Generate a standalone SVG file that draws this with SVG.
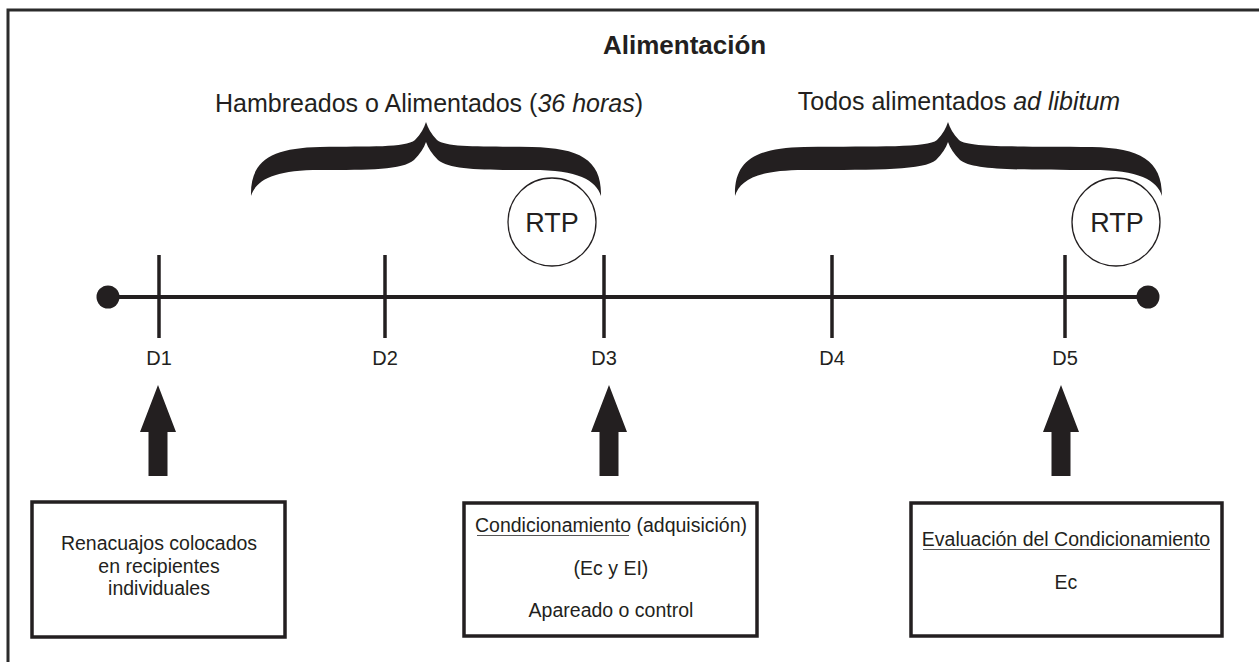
<svg xmlns="http://www.w3.org/2000/svg" width="1259" height="662" viewBox="0 0 1259 662">
<style>
text{font-family:"Liberation Sans",Arial,sans-serif;fill:#231f20}
.t{font-size:25px;text-anchor:middle}
.d{font-size:20px;text-anchor:middle}
.r{font-size:27px;text-anchor:middle}
.b{font-size:19.5px;text-anchor:middle}
.box{fill:#fff;stroke:#231f20;stroke-width:3.5}
.rtp{fill:#fff;stroke:#231f20;stroke-width:1.3}
.ul{stroke:#555;stroke-width:1.2}
.arw{fill:#231f20}
</style>
<rect width="1259" height="662" fill="#fff"/>
<path d="M8,700 V10 H1270" fill="none" stroke="#2b2b2b" stroke-width="3"/>
<text x="603" y="54" style="font-size:26px;font-weight:bold">Alimentación</text>
<g id="brace1">
<path fill="#231f20" d="M251,196 C250,160 272,148 320,147 C370,146 405,148 415,140 C421,134 424,128 426,122 C428,128 431,134 437,140 C447,148 482,146 532,147 C580,148 602,160 601,196 C596,180 578,170 532,170 C482,170 450,170 438,160 C432,154 428,148 426,142 C424,148 420,154 414,160 C402,170 370,170 320,170 C274,170 256,180 251,196 Z"/>
<text class="t" x="429" y="112">Hambreados o Alimentados (<tspan font-style="italic">36 horas</tspan>)</text>
</g>
<g id="brace2">
<path fill="#231f20" d="M735,196 C734,160 756,148 804,147 C880,146 927,148 937,140 C943,134 946,128 948,122 C950,128 953,134 959,140 C969,148 1016,146 1092,147 C1140,148 1162,160 1162,196 C1157,180 1139,170 1092,170 C1016,170 972,170 960,160 C954,154 950,148 948,142 C946,148 942,154 936,160 C924,170 880,170 804,170 C758,170 740,180 735,196 Z"/>
<text class="t" x="959" y="110">Todos alimentados <tspan font-style="italic">ad libitum</tspan></text>
</g>
<g id="rtp1">
<circle class="rtp" cx="552" cy="222" r="44"/>
<text class="r" x="552" y="232">RTP</text>
</g>
<g id="rtp2">
<circle class="rtp" cx="1116" cy="222" r="44"/>
<text class="r" x="1117" y="232">RTP</text>
</g>
<g id="timeline">
<line x1="108" y1="297" x2="1148" y2="297" stroke="#231f20" stroke-width="4"/>
<circle cx="108" cy="297" r="11.5" fill="#231f20"/>
<circle cx="1148" cy="297" r="11.5" fill="#231f20"/>
<g stroke="#231f20" stroke-width="3.5">
<line x1="159" y1="255" x2="159" y2="338"/>
<line x1="385" y1="255" x2="385" y2="338"/>
<line x1="604" y1="255" x2="604" y2="338"/>
<line x1="832" y1="255" x2="832" y2="338"/>
<line x1="1065" y1="255" x2="1065" y2="338"/>
</g>
<text class="d" x="159" y="365">D1</text>
<text class="d" x="385" y="365">D2</text>
<text class="d" x="604" y="365">D3</text>
<text class="d" x="832" y="365">D4</text>
<text class="d" x="1065" y="365">D5</text>
</g>
<g id="connectors">
<polygon class="arw" points="158,385 176,432 167.5,432 167.5,476 148.5,476 148.5,432 140,432"/>
<polygon class="arw" points="609,385 627,432 618.5,432 618.5,476 599.5,476 599.5,432 591,432"/>
<polygon class="arw" points="1061,385 1079,432 1070.5,432 1070.5,476 1051.5,476 1051.5,432 1043,432"/>
</g>
<g id="box1">
<rect class="box" x="32" y="502" width="253" height="135"/>
<text class="b" x="159" y="550">Renacuajos colocados</text>
<text class="b" x="159" y="573">en recipientes</text>
<text class="b" x="159" y="595">individuales</text>
</g>
<g id="box2">
<rect class="box" x="464" y="503" width="293" height="133"/>
<text class="b" x="611" y="532">Condicionamiento (adquisición)</text>
<line class="ul" x1="477" y1="535.5" x2="629" y2="535.5"/>
<text class="b" x="611" y="575">(Ec y EI)</text>
<text class="b" x="611" y="617">Apareado o control</text>
</g>
<g id="box3">
<rect class="box" x="911" y="503" width="311" height="133"/>
<text class="b" x="1066" y="546">Evaluación del Condicionamiento</text>
<line class="ul" x1="923" y1="549.5" x2="1210" y2="549.5"/>
<text class="b" x="1066" y="589">Ec</text>
</g>
</svg>
